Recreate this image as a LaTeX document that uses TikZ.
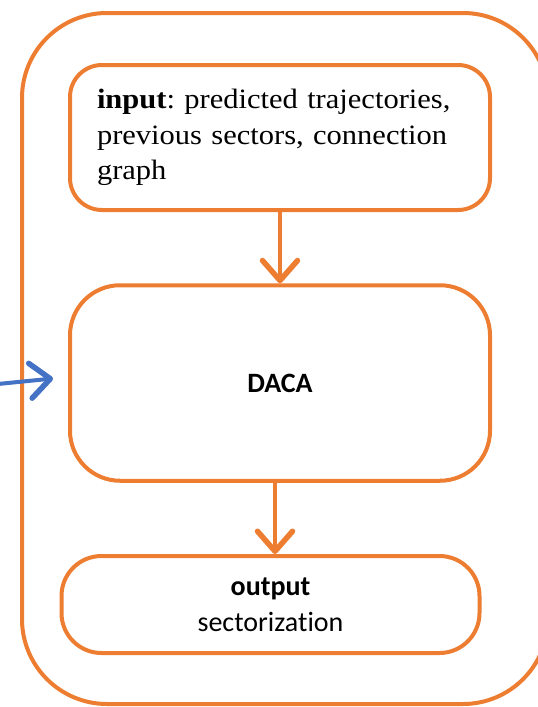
\documentclass[tikz,border=0pt]{standalone}
\usepackage{fontspec}
\setmainfont{Liberation Serif}[FakeStretch=1.09]
\setsansfont{Carlito}[Ligatures=NoCommon]
\usetikzlibrary{arrows.meta}
\definecolor{flowor}{HTML}{ED7D31}
\definecolor{flowbl}{HTML}{4472C4}
\begin{document}
\frenchspacing
\begin{tikzpicture}[x=1pt,y=-1pt,
  stage/.style={draw=flowor, line width=4pt, rectangle, inner sep=0pt},
  flow/.style={line width=4pt, -{Straight Barb[length=20pt,width=35pt,line width=5.5pt,round]}},
  serifbody/.style={font=\fontsize{28}{35.5}\selectfont},
  sansbody/.style={font=\sffamily\fontsize{28}{36}\selectfont}]
\useasboundingbox (0,0) rectangle (538,707);
% enclosing frame, partly outside the page
\node[stage, minimum width=526pt, minimum height=691pt, rounded corners=85pt]
  (frame) at (285,358.5) {};
% processing chain
\node[stage, minimum width=420pt, minimum height=145pt, rounded corners=32pt,
  serifbody, align=left, text width=366pt]
  (input) at (280,137.5)
  {\textbf{input}: predicted trajectories,\\previous sectors, connection\\graph};
\node[stage, minimum width=420pt, minimum height=195.5pt, rounded corners=50pt,
  sansbody] (daca) at (280,383) {\textbf{DACA}};
\node[stage, minimum width=418pt, minimum height=97pt, rounded corners=40pt,
  sansbody, align=center] (output) at (270.5,604.5)
  {\textbf{output}\\sectorization};
% connectors
\draw[flow, flowor] (input.south) -- (daca.north);
\draw[flow, flowor] ([xshift=-5pt]daca.south) -- ([xshift=-5pt]daca.south |- output.north);
\coordinate (feed) at (-2,384);
\draw[flow, flowbl, shorten >=15pt] (feed) -- ([yshift=6pt]daca.west);
\end{tikzpicture}
\end{document}
